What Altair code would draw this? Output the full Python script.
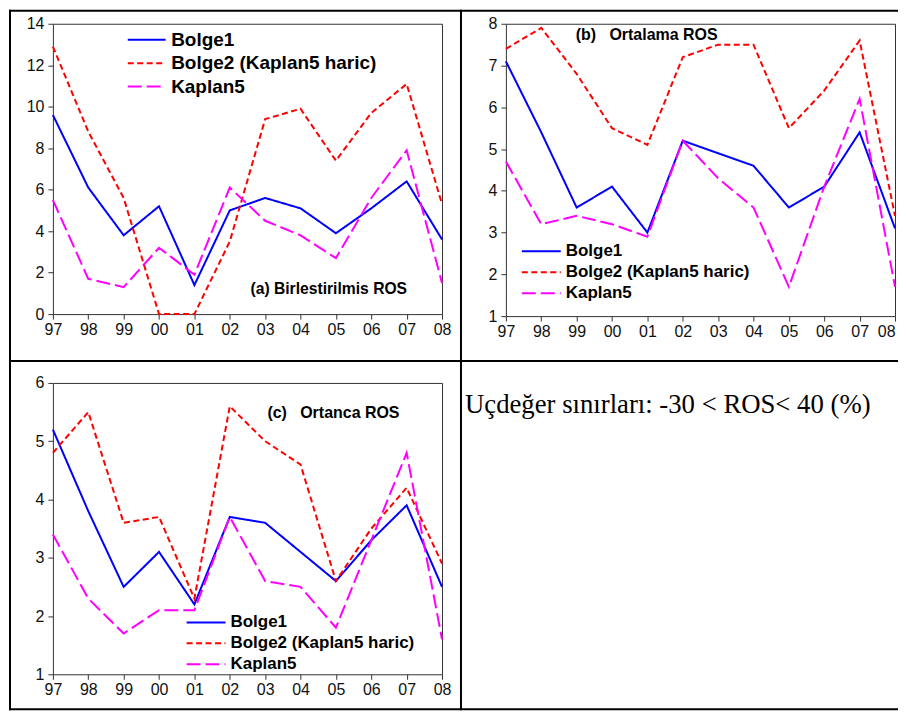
import altair as alt
import pandas as pd

years = ["97", "98", "99", "00", "01", "02", "03", "04", "05", "06", "07", "08"]
series = ["Bolge1", "Bolge2 (Kaplan5 haric)", "Kaplan5"]
colors = ["#0000FF", "#FF0000", "#FF00FF"]
dashes = [[1, 0], [6, 3.5], [14, 5]]

# (a) Birlestirilmis ROS
a_bolge1 = [9.6, 6.1, 3.8, 5.2, 1.4, 5.0, 5.6, 5.1, 3.9, 5.1, 6.4, 3.6]
a_bolge2 = [12.9, 8.8, 5.6, 0.0, 0.0, 3.5, 9.4, 9.9, 7.4, 9.7, 11.1, 5.3]
a_kaplan5 = [5.5, 1.7, 1.3, 3.2, 1.9, 6.1, 4.5, 3.8, 2.7, 5.6, 7.9, 1.5]

# (b) Ortalama ROS
b_bolge1 = [7.1, 5.4, 3.6, 4.1, 3.0, 5.2, 4.9, 4.6, 3.6, 4.1, 5.4, 3.1]
b_bolge2 = [7.4, 7.9, 6.8, 5.5, 5.1, 7.2, 7.5, 7.5, 5.5, 6.4, 7.6, 3.4]
b_kaplan5 = [4.7, 3.2, 3.4, 3.2, 2.9, 5.2, 4.3, 3.6, 1.7, 4.1, 6.2, 1.7]

# (c) Ortanca ROS
c_bolge1 = [5.2, 3.8, 2.5, 3.1, 2.2, 3.7, 3.6, 3.1, 2.6, 3.3, 3.9, 2.5]
c_bolge2 = [4.8, 5.5, 3.6, 3.7, 2.3, 5.6, 5.0, 4.6, 2.6, 3.5, 4.2, 2.9]
c_kaplan5 = [3.4, 2.3, 1.7, 2.1, 2.1, 3.7, 2.6, 2.5, 1.8, 3.3, 4.8, 1.6]

title_a = "(a) Birlestirilmis ROS"
title_b = "(b)\u00a0\u00a0\u00a0Ortalama ROS"
title_c = "(c)\u00a0\u00a0\u00a0Ortanca ROS"
note_text = "Uçdeğer sınırları: -30 < ROS< 40 (%)"


def long_df(s1, s2, s3):
    rows = []
    for name, vals in zip(series, [s1, s2, s3]):
        for yr, v in zip(years, vals):
            rows.append({"year": yr, "series": name, "value": v})
    return pd.DataFrame(rows)


one = pd.DataFrame({"k": [0]})


def box(x1, x2, y1, y2):
    # filled black strip used for the table border lines
    return alt.Chart(one).mark_rect(color="black", strokeWidth=0).encode(
        x=alt.value(x1), x2=alt.value(x2), y=alt.value(y1), y2=alt.value(y2)
    )


def title_text(txt, x, y, size):
    return alt.Chart(pd.DataFrame({"t": [txt]})).mark_text(
        align="left", baseline="middle", font="Liberation Sans", fontWeight="bold",
        fontSize=size, color="black"
    ).encode(x=alt.value(x), y=alt.value(y), text="t:N")


def panel(df, width, height, ydomain, yticks, lx, ly, lfont, loff, soff, rpad, flush_last=False):
    leg = alt.Legend(
        orient="none", legendX=lx, legendY=ly, title=None, direction="vertical",
        symbolType="M-3,0H3", symbolSize=160 if lfont >= 19 else 169,
        symbolStrokeWidth=2, symbolOffset=soff, labelOffset=loff,
        labelFont="Liberation Sans", labelFontSize=lfont, labelFontWeight="bold",
        labelColor="black", labelLimit=500, rowPadding=rpad, padding=0,
    )
    xaxis_kw = dict(title=None, labelAngle=0, labelPadding=2)
    if flush_last:
        xaxis_kw["labelAlign"] = {
            "condition": {"test": "datum.label == '08'", "value": "right"},
            "value": "center",
        }
    return alt.Chart(df).mark_line(strokeWidth=2).encode(
        x=alt.X("year:N", sort=years, scale=alt.Scale(type="point", padding=0),
                axis=alt.Axis(**xaxis_kw)),
        y=alt.Y("value:Q", scale=alt.Scale(domain=ydomain, nice=False, zero=False),
                axis=alt.Axis(title=None, values=yticks, labelPadding=4)),
        color=alt.Color("series:N", sort=series,
                        scale=alt.Scale(domain=series, range=colors), legend=leg),
        strokeDash=alt.StrokeDash("series:N", sort=series,
                                  scale=alt.Scale(domain=series, range=dashes), legend=leg),
    ).properties(width=width, height=height)


# Cell (a): plot origin at page (52, 22)
pa = panel(long_df(a_bolge1, a_bolge2, a_kaplan5), 390, 291, [0, 14], list(range(0, 15, 2)),
           75, 6.5, 19, 15, 9.5, 3.5)
cell_a = alt.layer(
    pa,
    title_text(title_a, 198, 266, 15.7),
    box(-44, 410, -14, -12),
    box(-44, -42, -14, 339),
    box(408, 410, -14, 339),
    box(-44, 410, 337, 339),
)

# Cell (b): plot origin at page (506, 22)
pb = panel(long_df(b_bolge1, b_bolge2, b_kaplan5), 390, 293, [1, 8], list(range(1, 9)),
           16, 219.5, 17, 16, 11, 3, flush_last=True)
cell_b = alt.layer(
    pb,
    title_text(title_b, 70, 11, 16),
    box(-44, 400, -14, -12),
    box(-44, 400, 337, 339),
)

# Cell (c): plot origin at page (52, 382)
pc = panel(long_df(c_bolge1, c_bolge2, c_kaplan5), 390, 292, [1, 6], list(range(1, 7)),
           134, 231.5, 17, 16, 11, 3)
cell_c = alt.layer(
    pc,
    title_text(title_c, 215, 30, 16),
    box(-44, -42, -21, 328),
    box(408, 410, -21, 328),
    box(-44, 410, 326, 328),
)

# Cell (d): text cell, origin at page (506, 382)
note = alt.Chart(pd.DataFrame({"t": [note_text]})).mark_text(
    align="left", baseline="alphabetic", font="Liberation Serif", fontSize=26.8, color="black"
).encode(x=alt.value(-41), y=alt.value(30), text="t:N")
cell_d = alt.layer(
    note,
    box(-44, 400, 326, 328),
).properties(width=390, height=292, view=alt.ViewBackground(stroke="transparent"))

chart = alt.concat(
    cell_a, cell_b, cell_c, cell_d,
    columns=2, bounds="flush", spacing=alt.RowColnumber(row=67, column=64),
).resolve_legend(
    color="independent", strokeDash="independent"
).properties(
    padding={"left": 0, "top": 0, "right": -8, "bottom": 0}, background="white"
).configure_view(
    stroke="#333333", strokeWidth=1
).configure_axis(
    labelFont="Liberation Sans", labelFontSize=16, labelColor="#111111",
    tickColor="#333333", tickSize=5, tickWidth=1, domain=False, grid=False
)

chart.save("out.html", embed_options={"renderer": "svg", "actions": False})
